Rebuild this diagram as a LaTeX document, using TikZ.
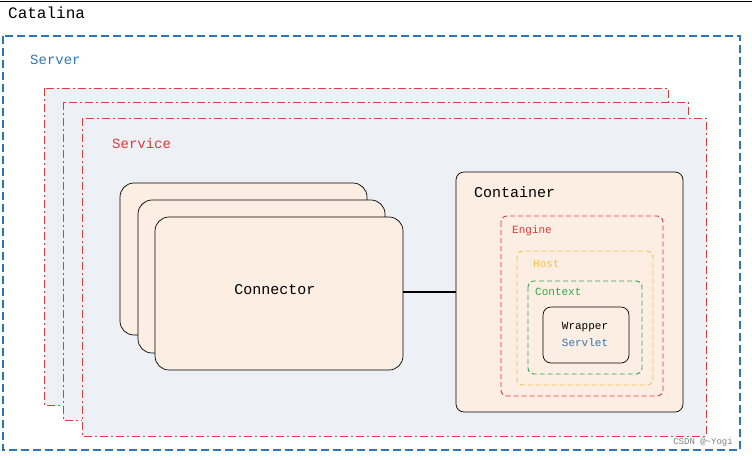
\documentclass[tikz,border=0pt]{standalone}
\usepackage{fontspec}
\setmainfont{Liberation Mono}
\definecolor{srvblue}{HTML}{2E75B6}
\definecolor{svcred}{HTML}{E03A3A}
\definecolor{hostyel}{HTML}{F5C242}
\definecolor{ctxgreen}{HTML}{2EA84E}
\definecolor{svcfill}{HTML}{EDF0F5}
\definecolor{boxfill}{HTML}{FCEEE2}
\tikzset{
  svc/.style={draw=svcred,dash pattern=on 8pt off 3pt on 2pt off 3pt,fill=svcfill,line width=.8pt},
  conn/.style={draw=black,fill=boxfill,rounded corners=14pt,line width=.7pt},
  lvl/.style={dash pattern=on 5pt off 3pt,rounded corners=6pt,line width=.9pt},
  lbl/.style={anchor=west,inner sep=0pt}
}
\begin{document}
\begin{tikzpicture}[x=1pt,y=-1pt]
  \useasboundingbox (0,0) rectangle (752,459);
  \draw[line width=.7pt] (0,1)--(752,1);
  \node[lbl,font=\fontsize{16}{18}\selectfont] (catalina) at (8,13) {Catalina};
  \draw[srvblue,dash pattern=on 8pt off 4pt,line width=1.2pt] (3,36) rectangle (740,450);
  \node[lbl,text=srvblue,font=\fontsize{14}{16}\selectfont] (server) at (30,60) {Server};
  % services
  \draw[svc] (44,88) rectangle (668,405);
  \draw[svc] (63,102) rectangle (688,420);
  \draw[svc] (82,118) rectangle (706,436);
  \node[lbl,text=svcred,font=\fontsize{14}{16}\selectfont] (service) at (112,143) {Service};
  % connectors
  \draw[conn] (120,183) rectangle (367,335);
  \draw[conn] (138,200) rectangle (385,353);
  \draw[conn] (155,217) rectangle (403,370);
  \node[font=\fontsize{15}{17}\selectfont] (connector) at (275,290) {Connector};
  \coordinate (connR) at (403,292);
  % container
  \draw[conn,rounded corners=8pt] (456,172) rectangle (683,412);
  \coordinate (contL) at (456,292);
  \node[lbl,font=\fontsize{15}{17}\selectfont] (container) at (474,192) {Container};
  \draw[line width=1.2pt] (connR)--(contL);
  \draw[lvl,svcred] (501,216) rectangle (663,396);
  \node[lbl,text=svcred,font=\fontsize{11}{13}\selectfont] (engine) at (512,231) {Engine};
  \draw[lvl,hostyel] (517,251) rectangle (653,385);
  \node[lbl,text=hostyel,font=\fontsize{11}{13}\selectfont] (host) at (533,264) {Host};
  \draw[lvl,ctxgreen] (528,281) rectangle (642,374);
  \node[lbl,text=ctxgreen,font=\fontsize{11}{13}\selectfont] (context) at (535,292) {Context};
  \draw[rounded corners=8pt,line width=.7pt] (543,307) rectangle (629,363);
  \node[font=\fontsize{11}{13}\selectfont] (wrapper) at (585,327) {Wrapper};
  \node[font=\fontsize{11}{13}\selectfont,text=srvblue] (servlet) at (585,343) {Servlet};
  \node[font=\fontsize{9}{10}\selectfont,text=gray,fill=white,inner sep=1pt] (mark) at (703,442) {CSDN @\textasciitilde Yogi};
\end{tikzpicture}
\end{document}
